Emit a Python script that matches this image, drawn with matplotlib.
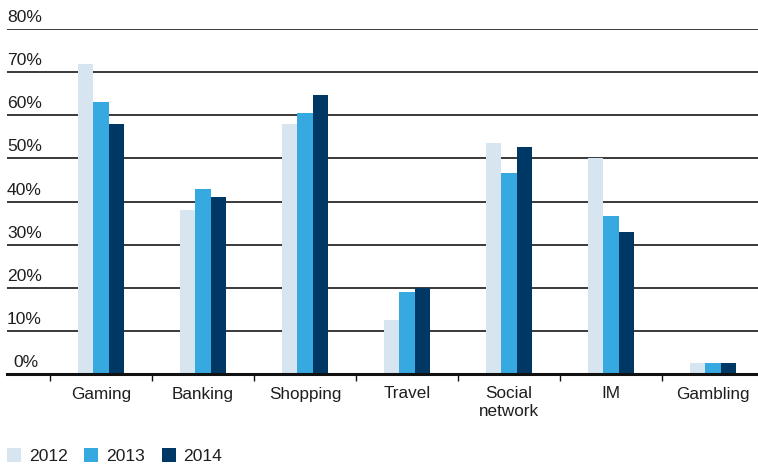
import matplotlib.pyplot as plt
from matplotlib.patches import Patch
import numpy as np

categories = ['Gaming', 'Banking', 'Shopping', 'Travel', 'Social\nnetwork', 'IM', 'Gambling']
years = ['2012', '2013', '2014']
v2012 = [72, 38, 58, 12.5, 53.5, 50, 2.5]
v2013 = [63, 43, 60.5, 19, 46.5, 36.7, 2.5]
v2014 = [58, 41, 64.7, 20, 52.7, 33, 2.5]
yticks = [0, 10, 20, 30, 40, 50, 60, 70, 80]

colors = ['#d7e5f0', '#36a9e1', '#003865']
series = [v2012, v2013, v2014]

plt.rcParams['font.family'] = ['Liberation Sans', 'DejaVu Sans']
txt = '#1e1e1e'
fs = 12.6

fig = plt.figure(figsize=(7.58, 4.67), dpi=100)
ax = fig.add_axes([7 / 758, 1 - 374 / 467, 751 / 758, (374 - 29) / 467])

x = np.arange(len(categories))
w = 0.152
for k, vals in enumerate(series):
    ax.bar(x + (k - 1) * w, vals, width=w, color=colors[k], zorder=3, linewidth=0)

# horizontal grid lines with the percentage labels sitting above them
for t in yticks[1:]:
    ax.axhline(t, color='#2a2a2a', lw=1.3, zorder=1)
for t in yticks:
    ax.annotate(f'{t}%', xy=(0, t), xycoords=('axes fraction', 'data'),
                xytext=(4.5 if t == 0 else 0, 5), textcoords='offset points',
                ha='left', va='baseline', fontsize=fs, color=txt)

ax.set_xlim(-0.5 - 43 / 102, (758 - 101) / 102)
ax.set_ylim(0, 80)

for s in ['top', 'right', 'left']:
    ax.spines[s].set_visible(False)
ax.spines['bottom'].set_linewidth(2.2)
ax.spines['bottom'].set_color('#111111')
ax.spines['bottom'].set_zorder(4)

ax.set_yticks([])
ax.set_xticks(np.arange(-0.5, 6.0, 1.0))
ax.set_xticklabels([])
ax.tick_params(axis='x', which='major', length=5, width=1, color='#111111', direction='out')
ax.set_xticks(x, minor=True)
ax.set_xticklabels(categories, minor=True, fontsize=12.3, color=txt, linespacing=1.25)
ax.tick_params(axis='x', which='minor', length=0, pad=9)

handles = [Patch(facecolor=c, edgecolor='none') for c in colors]
fig.legend(handles, years, loc='lower left', bbox_to_anchor=(7 / 758, 3 / 467),
           ncol=3, frameon=False, fontsize=fs, handlelength=0.8, handleheight=0.8,
           handletextpad=0.45, columnspacing=0.95, borderpad=0, borderaxespad=0,
           labelcolor=txt)

fig.savefig('out.png', dpi=100)
